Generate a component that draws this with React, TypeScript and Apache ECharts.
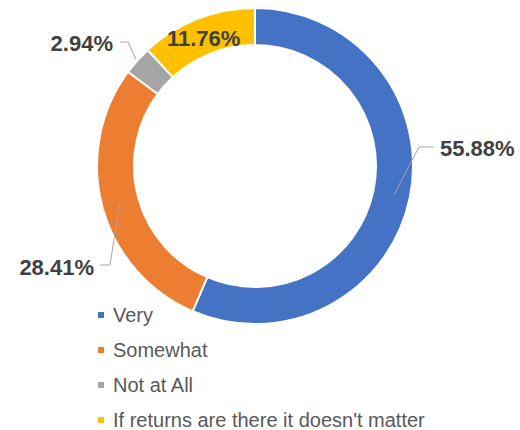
import React, { useEffect, useRef } from "react";
import * as echarts from "echarts";

const categories = ["Very", "Somewhat", "Not at All", "If returns are there it doesn't matter"];
const values = [55.88, 28.41, 2.94, 11.76];
const colors = ["#4472C4", "#ED7D31", "#A5A5A5", "#FFC000"];

const CX = 255;
const CY = 166;
const R_IN = 121;
const R_OUT = 158;

// label layout: text anchor, alignment, leader start radius, elbow point, line end x
const labelSpots = [
  { x: 440, y: 148, align: "left", r: 142, elbow: [419, 147], endX: 434 },
  { x: 94, y: 267, align: "right", r: 140, elbow: [110, 265], endX: 100 },
  { x: 113, y: 43, align: "right", r: 160, elbow: [128, 42], endX: 120 },
  { x: 167, y: 38, align: "left", r: 0, elbow: null as any, endX: 0 },
];

export default function App() {
  const ref = useRef<HTMLDivElement>(null);
  useEffect(() => {
    if (!ref.current) return;
    const chart = echarts.init(ref.current, undefined, { renderer: "svg" });
    const total = values.reduce((a, b) => a + b, 0);
    const midAngles: number[] = [];
    let acc = 0;
    values.forEach((v) => {
      const a0 = (acc / total) * 360;
      acc += v;
      const a1 = (acc / total) * 360;
      midAngles.push((a0 + a1) / 2);
    });
    const base = {
      type: "pie",
      center: [CX, CY],
      radius: [R_IN, R_OUT],
      startAngle: 90,
      clockwise: true,
      avoidLabelOverlap: false,
      emphasis: { disabled: true },
      silent: true,
    };
    chart.setOption({
      animation: false,
      backgroundColor: "#ffffff",
      legend: {
        orient: "vertical",
        left: 96,
        top: 305,
        bottom: 0,
        padding: 0,
        itemWidth: 8,
        itemHeight: 8,
        itemGap: 15,
        icon: "rect",
        data: categories,
        textStyle: {
          fontFamily: "Liberation Sans",
          fontSize: 20,
          color: "#595959",
          lineHeight: 16,
          padding: [0, 0, 0, 3],
        },
      },
      series: [
        {
          ...base,
          name: "ring",
          z: 2,
          itemStyle: { borderColor: "#ffffff", borderWidth: 2 },
          label: { show: false },
          labelLine: { show: false },
          data: categories.map((name, i) => ({
            name,
            value: values[i],
            itemStyle: { color: colors[i] },
          })),
        },
        {
          ...base,
          name: "labels",
          z: 5,
          itemStyle: { color: "rgba(0,0,0,0)", borderWidth: 0 },
          label: {
            show: true,
            formatter: (p: any) => `${Number(p.value).toFixed(2)}%`,
            fontFamily: "Liberation Sans",
            fontWeight: "bold",
            fontSize: 22,
            color: "#404040",
          },
          labelLine: {
            show: true,
            lineStyle: { color: "#A6A6A6", width: 1 },
          },
          labelLayout: (params: any) => {
            const i = params.dataIndex;
            const s = labelSpots[i];
            const out: any = { x: s.x, y: s.y, align: s.align, verticalAlign: "middle" };
            if (s.elbow) {
              const ang = (midAngles[i] * Math.PI) / 180;
              const sx = CX + s.r * Math.sin(ang);
              const sy = CY - s.r * Math.cos(ang);
              out.labelLinePoints = [
                [sx, sy],
                s.elbow,
                [s.endX, s.elbow[1]],
              ];
            }
            return out;
          },
          data: categories.map((name, i) => ({
            name,
            value: values[i],
            labelLine: { show: i !== 3 },
          })),
        },
      ],
    });
    return () => chart.dispose();
  }, []);
  return (
    <div
      ref={ref}
      style={{ position: "fixed", left: 0, top: 0, width: 520, height: 430 }}
    />
  );
}
